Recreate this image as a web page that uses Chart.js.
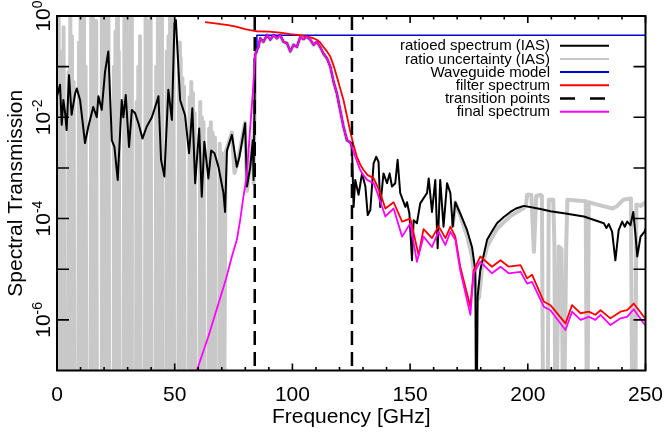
<!DOCTYPE html>
<html><head><meta charset="utf-8">
<script src="https://cdn.jsdelivr.net/npm/chart.js@4/dist/chart.umd.min.js"></script>
<style>html,body{margin:0;padding:0;background:#fff;}canvas{display:block;}</style>
</head><body>
<canvas id="c" width="665" height="432"></canvas>
<script>
// ---------- tick labels / text ----------
const xTickValues = [0, 50, 100, 150, 200, 250];
const yTickExponents = [0, -2, -4, -6];
const xTitle = 'Frequency [GHz]';
const yTitle = 'Spectral Transmission';
const legendLabels = ['ratioed spectrum (IAS)', 'ratio uncertainty (IAS)', 'Waveguide model',
                      'filter spectrum', 'transition points', 'final spectrum'];

// ---------- data: [frequency GHz, transmission] ----------
const ratioLow = [[0,2.6e-2],[1.3,4.4e-2],[2,7.1e-3],[2.7,2.2e-2],[3.4,1.26e-2],[4.1,5.6e-3],[5.1,6.8e-2],[6.2,1.12e-2],[7.7,2.95e-2],[8.4,3.7e-2],[9.8,2.2e-2],[11.9,3.1e-3],[13.3,6.5e-3],[15.4,1.6e-2],[16.9,1.0e-2],[17.6,2.6e-2],[19,1.4e-2],[20.4,7.9e-2],[21.8,0.2],[23.3,3.5e-3],[24.4,2.6e-3],[25.8,5.8e-4],[27.5,2.2e-2],[28.2,1.0e-2],[29.2,2.75e-2],[30.6,2.6e-3],[31.8,1.4e-2],[33.2,1.2e-2],[34.6,7.6e-3],[36.3,3.8e-3],[38.1,6.5e-3],[40.3,1.0e-2],[41.7,1.6e-2],[43.1,2.6e-2],[44.2,1.45e-3],[45.6,6.8e-4],[47.3,3.5e-2],[48.8,8.9e-3],[49.9,0.72],[50.5,0.83],[52.3,2.2e-2],[54.4,1.1e-2],[56.1,1.95e-3],[57.5,1.5e-2],[58.7,5.0e-4],[60.4,6.0e-3],[61.5,2.7e-4],[62.6,3.3e-3],[64.3,6.2e-4],[65.5,2.2e-3],[66.9,1.95e-3],[68.6,1.05e-3],[70.7,3.2e-4],[71.4,1.35e-4],[72.2,2.2e-3],[74.3,4.5e-3],[76.4,1.05e-3],[77.5,1.66e-3],[78.5,3.1e-3],[79.9,7.6e-3],[80.7,4.3e-4],[82.1,1.05e-3],[83.2,3.5e-3],[83.5,5.8e-4]];
const passband = [[84.2,0.17],[84.6,0.20],[85.6,0.245],[86.3,0.363],[87.7,0.31],[89.2,0.42],[90.6,0.34],[92.0,0.42],[93.4,0.363],[94.8,0.42],[96.2,0.31],[97.7,0.29],[99.1,0.20],[100.5,0.27],[101.9,0.245],[103.3,0.38],[104.7,0.35],[106.2,0.39],[107.6,0.34],[109.0,0.27],[110.4,0.31],[111.8,0.245],[113.2,0.18],[114.7,0.145],[116.1,0.10],[117.5,0.05],[118.9,0.0295],[120.3,0.0138],[121.7,6.5e-3],[123.2,3.5e-3],[124.6,3.2e-3],[125.3,2.6e-3]];
const ratioHigh = [[126.0,1.7e-4],[126.7,5.8e-4],[128.1,2.95e-4],[129.6,7.8e-4],[131.0,4.3e-4],[132.0,1.17e-4],[133.1,1.48e-4],[134.5,1.23e-3],[135.6,1.66e-3],[136.6,1.32e-3],[137.3,1.7e-4],[138.7,7.8e-4],[140.2,5.0e-4],[141.3,7.8e-4],[142.3,4.3e-4],[143.7,5.0e-4],[144.7,1.45e-3],[145.8,3.2e-4],[148.0,1.7e-4],[148.7,2.1e-4],[149.7,1.26e-4],[150.8,1.5e-5],[151.5,9.3e-5],[152.9,8.1e-5],[154.3,2.0e-4],[157.2,3.2e-4],[157.9,6.2e-4],[159.3,1.35e-4],[160.7,5.8e-4],[161.7,2.6e-5],[162.8,5.8e-4],[164.2,6.9e-5],[165.7,5.0e-4],[167.1,3.2e-4],[168.1,6.9e-5],[169.2,2.1e-4],[171.3,1.26e-4],[174.2,5.9e-5],[176.3,2.75e-5],[177.7,9.5e-6],[178.1,1e-9],[178.7,2.9e-6],[179.8,9.5e-6],[182.7,3.8e-5],[184.8,5.6e-5],[186.9,8.1e-5],[189.8,1.07e-4],[192.6,1.35e-4],[195.0,1.58e-4],[198.3,1.78e-4],[205.4,1.55e-4],[209.6,1.4e-4],[216.0,1.26e-4],[223.8,1.1e-4],[232.3,8.1e-5],[233.4,6.5e-5],[234.4,7.8e-5],[235.8,5.5e-5],[237.2,1.5e-5],[238.6,5.9e-5],[240.1,8.7e-5],[241.2,6.9e-5],[242.2,8.7e-5],[243.6,7.4e-5],[244.8,1.35e-4],[245.7,5.1e-5],[246.5,1.78e-5],[247.9,4.4e-5],[249.6,5.5e-5],[250,6.3e-5]];

const uncLow = [[0,0.5],[0.35,1e-9],[0.7,1.5],[1.05,1e-9],[1.4,0.2],[1.75,1e-9],[2.1,0.03],[2.45,1e-9],[2.8,0.6],[3.15,1e-9],
 [4.6,1e-9],[4.95,0.08],[5.3,1e-9],[5.65,2],[6.0,1e-9],[6.35,0.4],[6.7,1e-9],[7.05,0.05],[7.4,1e-9],
 [9.0,1e-9],[9.35,0.3],[9.7,1e-9],[10.05,2],[10.4,1e-9],[10.75,0.6],[11.1,1e-9],[11.45,2],[11.8,1e-9],[12.15,0.1],[12.5,1e-9],
 [14.2,1e-9],[14.55,1.0],[14.9,1e-9],[15.25,2],[15.6,1e-9],[15.95,0.15],[16.3,1e-9],[16.65,0.8],[17.0,1e-9],
 [18.7,1e-9],[19.05,2],[19.4,1e-9],[19.75,1.2],[20.1,1e-9],[20.45,2],[20.8,1e-9],[21.15,0.05],[21.5,1e-9],[21.85,2],[22.2,1e-9],
 [23.8,1e-9],[24.15,0.1],[24.5,1e-9],[24.85,0.5],[25.2,1e-9],[25.55,2],[25.9,1e-9],[26.25,0.2],[26.6,1e-9],
 [28.3,1e-9],[28.65,2],[29.0,1e-9],[29.35,1.5],[29.7,1e-9],[30.05,0.05],[30.4,1e-9],[30.75,0.3],[31.1,1e-9],[31.45,2],[31.8,1e-9],
 [33.5,1e-9],[33.85,0.02],[34.2,1e-9],[34.55,0.1],[34.9,1e-9],[35.25,0.4],[35.6,1e-9],
 [37.3,1e-9],[37.65,2],[38.0,1e-9],[38.35,0.1],[38.7,1e-9],[39.05,0.8],[39.4,1e-9],[39.75,2],[40.1,1e-9],
 [41.8,1e-9],[42.15,0.1],[42.5,1e-9],[42.85,1.5],[43.2,1e-9],[43.55,0.2],[43.9,1e-9],[44.25,2],[44.6,1e-9],
 [46.3,1e-9],[46.65,0.2],[47.0,1e-9],[47.35,0.4],[47.7,1e-9],[48.05,2],[48.4,1e-9],[48.75,1.2],[49.1,1e-9],[49.45,2],[49.8,1e-9],
 [51.5,1e-9],[51.85,0.3],[52.2,1e-9],[52.55,0.15],[52.9,1e-9],[53.25,0.06],[53.6,1e-9],[53.95,0.04],[54.3,1e-9],
 [56.0,1e-9],[56.35,0.025],[56.7,1e-9],[57.05,0.05],[57.4,1e-9],[57.75,0.03],[58.1,1e-9],[58.45,0.012],[58.8,1e-9],
 [60.5,1e-9],[60.85,0.02],[61.2,1e-9],[61.55,0.01],[61.9,1e-9],[62.25,0.008],[62.6,1e-9],
 [64.3,1e-9],[64.65,0.006],[65.0,1e-9],[65.35,0.008],[65.7,1e-9],[66.05,0.005],[66.4,1e-9],[66.75,0.004],[67.1,1e-9],
 [68.8,1e-9],[69.15,0.003],[69.5,1e-9],[69.85,0.002],[70.2,1e-9],[70.55,0.0015],[70.9,1e-9],
 [71.6,0.002],[72.2,2.5e-3],[74.3,5.0e-3],[75.4,7.9e-4],[76.4,1.12e-3],[77.5,2.0e-3],[78.5,3.5e-3],[79.9,7.9e-3],[80.7,3.5e-4],[82.1,1.26e-3],[83.2,4.0e-3],[83.5,5.0e-4]];
const uncHigh = [[168.1,6.9e-5],[169.2,2.1e-4],[171.3,1.12e-4],[174.2,4.5e-5],[176.3,1.78e-5],[177.7,5.0e-6],[178.6,2.5e-6],[179.3,2.8e-6],[180.5,1.0e-5],[182.7,2.8e-5],[186.9,6.3e-5],[192.6,1.12e-4],[198.0,1.58e-4],[199.2,1.78e-4],[199.7,2.95e-4],[201.5,2.95e-4],[202.6,2.2e-5],[203.6,2.8e-4],[205.4,2.95e-4],[206.0,2.8e-4],[206.6,1e-9],[208.3,1e-9],[208.9,2.35e-4],[210.8,2.35e-4],[211.3,3.2e-5],[211.8,1e-9],[213.2,2.8e-5],[214.3,2.5e-5],[215.2,1e-9],[216.3,2.5e-5],[216.8,2.35e-4],[224.6,2.2e-4],[225.2,1e-9],[225.9,2.1e-4],[230.0,1.86e-4],[236.0,1.58e-4],[238.0,1.78e-4],[240.5,2.35e-4],[243.8,2.5e-4],[244.5,1e-9],[245.6,1e-9],[246.1,1.9e-4],[248.0,1.78e-4],[250,2.1e-4]];

const waveguide = [[84.7,0.19],[84.9,0.415],[250,0.415]];

const filter = [[62.9,0.76],[68,0.71],[72.7,0.66],[76,0.62],[79.9,0.55],[82,0.525],[84.9,0.50],[90,0.49],[94.8,0.47],[99.1,0.44],[103,0.42],[106.2,0.39],[108.5,0.37],[110.4,0.34],[111.8,0.30],[113.2,0.245],[114.7,0.20],[116.1,0.158],[117.5,0.105],[118.9,0.063],[120.3,0.037],[121.7,0.022],[123.2,0.0105],[124.6,5.2e-3],[126,2.8e-3],[127.4,1.66e-3],[128.8,1.17e-3],[130.2,9.1e-4],[132,7.2e-4],[134.5,6.3e-4],[135.9,4.5e-4],[137.3,3.2e-4],[139.5,1.58e-4],[143,2.1e-4],[146.6,8.7e-5],[150.1,1.0e-4],[153.6,1.9e-5],[155.7,6.2e-5],[159.3,4.1e-5],[162.1,7.1e-5],[165,4.1e-5],[167.1,6.9e-5],[169.2,4.4e-5],[171.3,1.12e-5],[175.6,1.82e-6],[177,9.5e-6],[179.8,1.78e-5],[184.8,1.12e-5],[188.4,1.5e-5],[191.9,1.12e-5],[196.9,1.2e-5],[199.7,6.6e-6],[201.8,7.8e-6],[206.8,2.3e-6],[209.6,1.95e-6],[216,8.5e-7],[218.8,1.95e-6],[222.4,1.35e-6],[225.9,1.45e-6],[228.7,1.26e-6],[230.9,1.55e-6],[235.1,1.07e-6],[239.4,1.45e-6],[242.2,1.55e-6],[245,2.1e-6],[249.3,1.15e-6],[250,1.07e-6]];

const transitionFreq = [84.0, 125.3];

const finalLow = [[58.5,5e-8],[59.4,1e-7],[64.3,4.7e-7],[68.6,2.1e-6],[71.7,6.2e-6],[74.3,1.78e-5],[76.4,3.8e-5],[77.8,9.3e-5],[79.2,2.7e-4],[80.6,7.0e-4],[82.1,6.5e-3],[83.2,3.2e-2]];
const finalHigh = [[126.7,1.66e-3],[128.8,9.1e-4],[129.6,7.8e-4],[131.7,5.8e-4],[134.5,5.0e-4],[135.9,3.4e-4],[139.5,1.1e-4],[143.0,1.58e-4],[146.6,4.4e-5],[150.1,8.1e-5],[152.9,1.4e-5],[155.7,4.4e-5],[159.3,2.75e-5],[162.1,5.5e-5],[165.0,3.0e-5],[167.1,5.5e-5],[169.2,3.8e-5],[171.3,9.5e-6],[175.6,1.26e-6],[177.0,8.3e-6],[179.8,1.4e-5],[184.8,8.3e-6],[188.4,1.12e-5],[191.9,8.3e-6],[196.9,8.9e-6],[199.7,5.2e-6],[201.8,5.6e-6],[206.8,1.82e-6],[209.6,1.55e-6],[216.0,6.3e-7],[218.8,1.45e-6],[222.4,1.0e-6],[225.9,1.15e-6],[228.7,1.0e-6],[230.9,1.26e-6],[235.1,7.9e-7],[239.4,1.07e-6],[242.2,1.15e-6],[245.0,1.62e-6],[249.3,8.5e-7],[250,7.9e-7]];

const Y_MIN = 1e-7, Y_MAX = 1;

// ---------- build ----------
const pts = arr => arr.map(p => ({x: p[0], y: p[1]}));
const gapAfter = arr => ({x: arr[arr.length - 1][0] + 0.3, y: null});
const transitionData = [];
transitionFreq.forEach(f => { transitionData.push({x: f, y: Y_MAX}, {x: f, y: Y_MIN}, {x: f + 0.5, y: null}); });

const FONT = '"Liberation Sans", Arial, Helvetica, sans-serif';
Chart.defaults.font.family = FONT;
Chart.defaults.color = '#000';

const common = {pointRadius: 0, tension: 0, clip: 0, spanGaps: false, borderJoinStyle: 'round'};
const datasets = [
  {...common, label: legendLabels[0], data: pts([...ratioLow, ...passband, ...ratioHigh]), borderColor: '#000000', borderWidth: 2, order: 4},
  {...common, label: legendLabels[1], data: [...pts([...uncLow, ...passband]), gapAfter(passband), ...pts(uncHigh)], borderColor: '#c8c8c8', borderWidth: 4, order: 5},
  {...common, label: legendLabels[2], data: pts(waveguide), borderColor: '#0000d8', borderWidth: 1.5, order: 3},
  {...common, label: legendLabels[3], data: pts(filter), borderColor: '#ff0000', borderWidth: 1.8, order: 2},
  {...common, label: legendLabels[4], data: transitionData, borderColor: '#000000', borderWidth: 2.5, borderDash: [14, 7], order: 1},
  {...common, label: legendLabels[5], data: pts([...finalLow, ...passband, ...finalHigh]), borderColor: '#ff00ff', borderWidth: 1.8, order: 0}
];

const frame = {
  id: 'frame',
  afterDatasetsDraw(chart) {
    const {ctx, chartArea: a, scales: {x, y}} = chart;
    ctx.save();
    ctx.strokeStyle = '#000';
    ctx.lineWidth = 2;
    ctx.strokeRect(a.left, a.top, a.right - a.left, a.bottom - a.top);
    ctx.lineWidth = 1.6;
    ctx.beginPath();
    for (let f = x.min; f <= x.max; f += 10) {
      const px = x.getPixelForValue(f);
      const len = (f % 50 === 0) ? 7 : 3.5;
      ctx.moveTo(px, a.bottom); ctx.lineTo(px, a.bottom - len);
      ctx.moveTo(px, a.top); ctx.lineTo(px, a.top + len);
    }
    for (let e = -6; e <= -1; e++) {
      const py = y.getPixelForValue(Math.pow(10, e));
      ctx.moveTo(a.left, py); ctx.lineTo(a.left + 12, py);
      ctx.moveTo(a.right, py); ctx.lineTo(a.right - 12, py);
    }
    ctx.stroke();

    // y tick labels 10^n, rotated
    ctx.fillStyle = '#000';
    ctx.textAlign = 'left';
    ctx.textBaseline = 'alphabetic';
    yTickExponents.forEach(e => {
      const py = y.getPixelForValue(Math.pow(10, e));
      const sup = String(e);
      ctx.save();
      ctx.translate(50, py);
      ctx.rotate(-Math.PI / 2);
      ctx.font = '21px ' + FONT; const w1 = ctx.measureText('10').width;
      ctx.font = '14px ' + FONT; const w2 = ctx.measureText(sup).width;
      const s = -(w1 + w2) / 2;
      ctx.font = '21px ' + FONT; ctx.fillText('10', s, 0);
      ctx.font = '14px ' + FONT; ctx.fillText(sup, s + w1, -8);
      ctx.restore();
    });

    // legend
    ctx.font = '15px ' + FONT;
    ctx.textAlign = 'right';
    ctx.textBaseline = 'middle';
    chart.data.datasets.forEach((ds, i) => {
      const ry = 45.7 + i * 13.2;
      ctx.fillStyle = '#000';
      ctx.fillText(ds.label, 550, ry + 0.5);
      ctx.beginPath();
      ctx.strokeStyle = ds.borderColor;
      ctx.lineWidth = i === 4 ? 2.5 : 2;
      ctx.setLineDash(i === 4 ? [15, 15] : []);
      ctx.moveTo(560, ry); ctx.lineTo(609, ry);
      ctx.stroke();
      ctx.setLineDash([]);
    });
    ctx.restore();
  }
};

new Chart(document.getElementById('c'), {
  type: 'line',
  data: {datasets},
  options: {
    responsive: false, animation: false, devicePixelRatio: 1,
    layout: {padding: {top: 16, left: 0, right: 19.5, bottom: 0}},
    plugins: {legend: {display: false}, tooltip: {enabled: false}},
    scales: {
      x: {
        type: 'linear', position: 'bottom', min: 0, max: 250,
        afterBuildTicks: s => { s.ticks = xTickValues.map(v => ({value: v})); },
        afterFit: s => { s.height = 61.5; s.paddingLeft = 0; s.paddingRight = 0; },
        ticks: {font: {size: 21}, color: '#000', padding: 12, maxRotation: 0, autoSkip: false},
        grid: {display: false, drawTicks: false},
        border: {display: false},
        title: {display: true, text: xTitle, font: {size: 21}, color: '#000', padding: {top: 0, bottom: 2}}
      },
      y: {
        type: 'logarithmic', position: 'left', min: Y_MIN, max: Y_MAX,
        afterFit: s => { s.width = 57; s.paddingTop = 0; s.paddingBottom = 0; },
        ticks: {display: false},
        grid: {display: false, drawTicks: false},
        border: {display: false},
        title: {display: true, text: yTitle, font: {size: 21}, color: '#000', padding: {top: 4, bottom: 0}}
      }
    }
  },
  plugins: [frame]
});
</script>
</body></html>
